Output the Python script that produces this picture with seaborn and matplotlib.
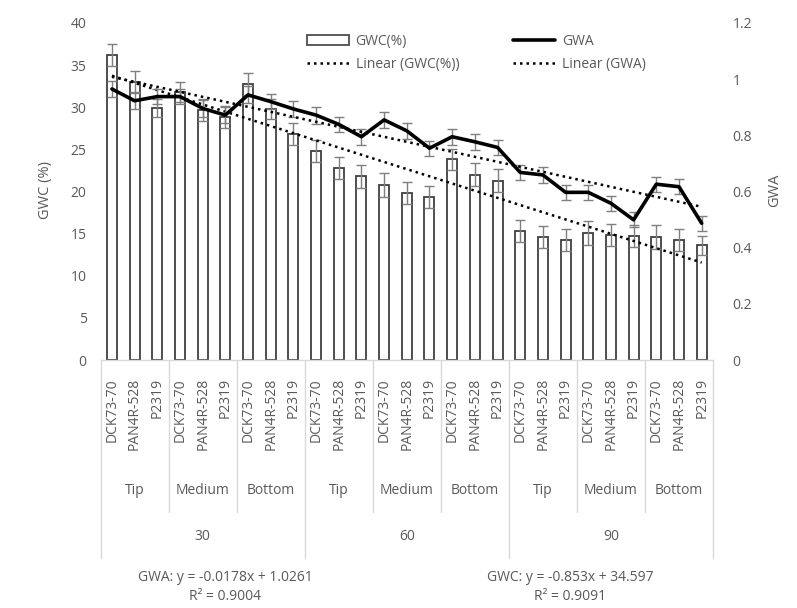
import numpy as np
import pandas as pd
import matplotlib
matplotlib.use("Agg")
import matplotlib.pyplot as plt
from matplotlib.patches import Patch
from matplotlib.lines import Line2D
import seaborn as sns

# ---------------- data ----------------
cultivars = ["DCK73-70", "PAN4R-528", "P2319"] * 9
positions = ["Tip", "Medium", "Bottom"] * 3
days = ["30", "60", "90"]

gwc = [36.2, 33.0, 29.9, 31.8, 29.7, 28.8, 32.8, 29.8, 26.8,
       24.8, 22.8, 21.8, 20.8, 19.8, 19.3, 23.8, 22.0, 21.3,
       15.3, 14.6, 14.2, 15.1, 14.8, 14.7, 14.6, 14.2, 13.6]
gwc_err = [1.3, 1.3, 1.1, 1.2, 1.3, 1.3, 1.3, 1.2, 1.3,
           1.3, 1.3, 1.4, 1.4, 1.3, 1.3, 1.3, 1.4, 1.4,
           1.3, 1.3, 1.3, 1.4, 1.3, 1.3, 1.4, 1.3, 1.1]
gwa = [0.965, 0.923, 0.938, 0.938, 0.896, 0.872, 0.944, 0.920, 0.894,
       0.872, 0.839, 0.795, 0.855, 0.816, 0.754, 0.795, 0.777, 0.757,
       0.668, 0.659, 0.597, 0.597, 0.558, 0.499, 0.626, 0.617, 0.487]
gwa_err = [0.03, 0.03, 0.028, 0.028, 0.03, 0.028, 0.03, 0.028, 0.028,
           0.03, 0.028, 0.028, 0.028, 0.028, 0.027, 0.028, 0.028, 0.027,
           0.027, 0.027, 0.027, 0.027, 0.027, 0.027, 0.027, 0.027, 0.027]

# trend-line equations shown on the chart
gwc_fit = (-0.853, 34.597)
gwa_fit = (-0.0178, 1.0261)
gwc_eq = "GWC: y = -0.853x + 34.597\nR² = 0.9091"
gwa_eq = "GWA: y = -0.0178x + 1.0261\nR² = 0.9004"

# ---------------- style ----------------
sns.set_theme(style="white")
plt.rcParams["font.family"] = ["Open Sans", "DejaVu Sans"]
TXT = "#595959"
GRID = "#d9d9d9"
FS = 10

W, H = 797, 608
fig = plt.figure(figsize=(W / 100, H / 100), dpi=100)
L, R, T, B = 100.6, 713.0, 23.0, 360.0
ax = fig.add_axes([L / W, (H - B) / H, (R - L) / W, (B - T) / H])

df = pd.DataFrame({"idx": np.arange(len(gwc)), "gwc": gwc, "gwa": gwa})
n = len(df)

sns.barplot(data=df, x="idx", y="gwc", ax=ax, errorbar=None, color="white",
            edgecolor="#404040", linewidth=1.3, width=0.44, zorder=1)
ax.errorbar(df["idx"], df["gwc"], yerr=gwc_err, fmt="none", ecolor="#7f7f7f",
            elinewidth=1, capsize=3.5, capthick=1, zorder=2)

xs = df["idx"].to_numpy()
xn = xs + 1
ax.plot(xs, gwc_fit[0] * xn + gwc_fit[1], ls=(0, (1, 1.6)), color="black",
        lw=1.8, zorder=3)

ax.set_xlim(-0.5, n - 0.5)
ax.set_ylim(0, 40)
ax.set_yticks(np.arange(0, 41, 5))
ax.set_xticks(np.arange(-0.5, n, 1))
ax.set_xticklabels([])
ax.tick_params(axis="x", length=4, color=GRID, width=1, direction="out")
ax.tick_params(axis="y", length=0, labelsize=FS, labelcolor=TXT, pad=10)
ax.set_xlabel("")
ax.set_ylabel("")
for s in ["top", "left", "right"]:
    ax.spines[s].set_visible(False)
ax.spines["bottom"].set_color(GRID)
ax.spines["bottom"].set_linewidth(1)

ax2 = ax.twinx()
sns.lineplot(data=df, x="idx", y="gwa", ax=ax2, color="black", lw=2.6,
             zorder=4)
ax2.errorbar(df["idx"], df["gwa"], yerr=gwa_err, fmt="none", ecolor="#7f7f7f",
             elinewidth=1, capsize=3.5, capthick=1, zorder=3)
ax2.plot(xs, gwa_fit[0] * xn + gwa_fit[1], ls=(0, (1, 1.6)), color="black",
         lw=1.8, zorder=3)
ax2.set_ylim(0, 1.2)
ax2.set_yticks([0, 0.2, 0.4, 0.6, 0.8, 1.0, 1.2])
ax2.set_yticklabels(["0", "0.2", "0.4", "0.6", "0.8", "1", "1.2"])
ax2.tick_params(axis="y", length=0, labelsize=FS, labelcolor=TXT, pad=14)
ax2.set_xlabel("")
ax2.set_ylabel("")
for s in ax2.spines.values():
    s.set_visible(False)
ax2.set_xlim(-0.5, n - 0.5)


def ay(ypix):
    return (B - ypix) / (B - T)


tr = ax.get_xaxis_transform()
for i, c in enumerate(cultivars):
    ax.text(i, ay(378), c, transform=tr, rotation=90, ha="center", va="top",
            fontsize=FS, color=TXT)
for k, p in enumerate(positions):
    ax.text(3 * k + 1, ay(490), p, transform=tr, ha="center", va="center",
            fontsize=FS, color=TXT)
for k, d in enumerate(days):
    ax.text(9 * k + 4, ay(537), d, transform=tr, ha="center", va="center",
            fontsize=FS, color=TXT)
for b in [2.5, 5.5, 11.5, 14.5, 20.5, 23.5]:
    ax.plot([b, b], [0, ay(512)], transform=tr, color=GRID, lw=1,
            clip_on=False)
for b in [-0.5, 8.5, 17.5, 26.5]:
    ax.plot([b, b], [0, ay(558)], transform=tr, color=GRID, lw=1,
            clip_on=False)

fig.text(45 / W, 1 - 190 / H, "GWC (%)", rotation=90, ha="center",
         va="center", fontsize=FS + 0.5, color=TXT)
fig.text(775 / W, 1 - 190 / H, "GWA", rotation=90, ha="center",
         va="center", fontsize=FS + 0.5, color=TXT)

fig.text(225 / W, 1 - 587 / H, gwa_eq, ha="center", va="center",
         multialignment="center", fontsize=FS, color=TXT, linespacing=1.35)
fig.text(570 / W, 1 - 587 / H, gwc_eq, ha="center", va="center",
         multialignment="center", fontsize=FS, color=TXT, linespacing=1.35)

handles = [
    Patch(facecolor="white", edgecolor="#404040", linewidth=1.2),
    Line2D([], [], ls=(0, (1, 1.6)), color="black", lw=1.8),
    Line2D([], [], color="black", lw=2.6),
    Line2D([], [], ls=(0, (1, 1.6)), color="black", lw=1.8),
]
labels = ["GWC(%)", "Linear (GWC(%))", "GWA", "Linear (GWA)"]
fig.legend(handles, labels, ncol=2, loc="upper left",
           bbox_to_anchor=(300 / W, 1 - 27 / H), frameon=False, borderpad=0,
           handlelength=3.0, handletextpad=0.5, columnspacing=3.9,
           labelspacing=0.55, fontsize=FS, labelcolor=TXT)

fig.savefig("out.png", dpi=100)
